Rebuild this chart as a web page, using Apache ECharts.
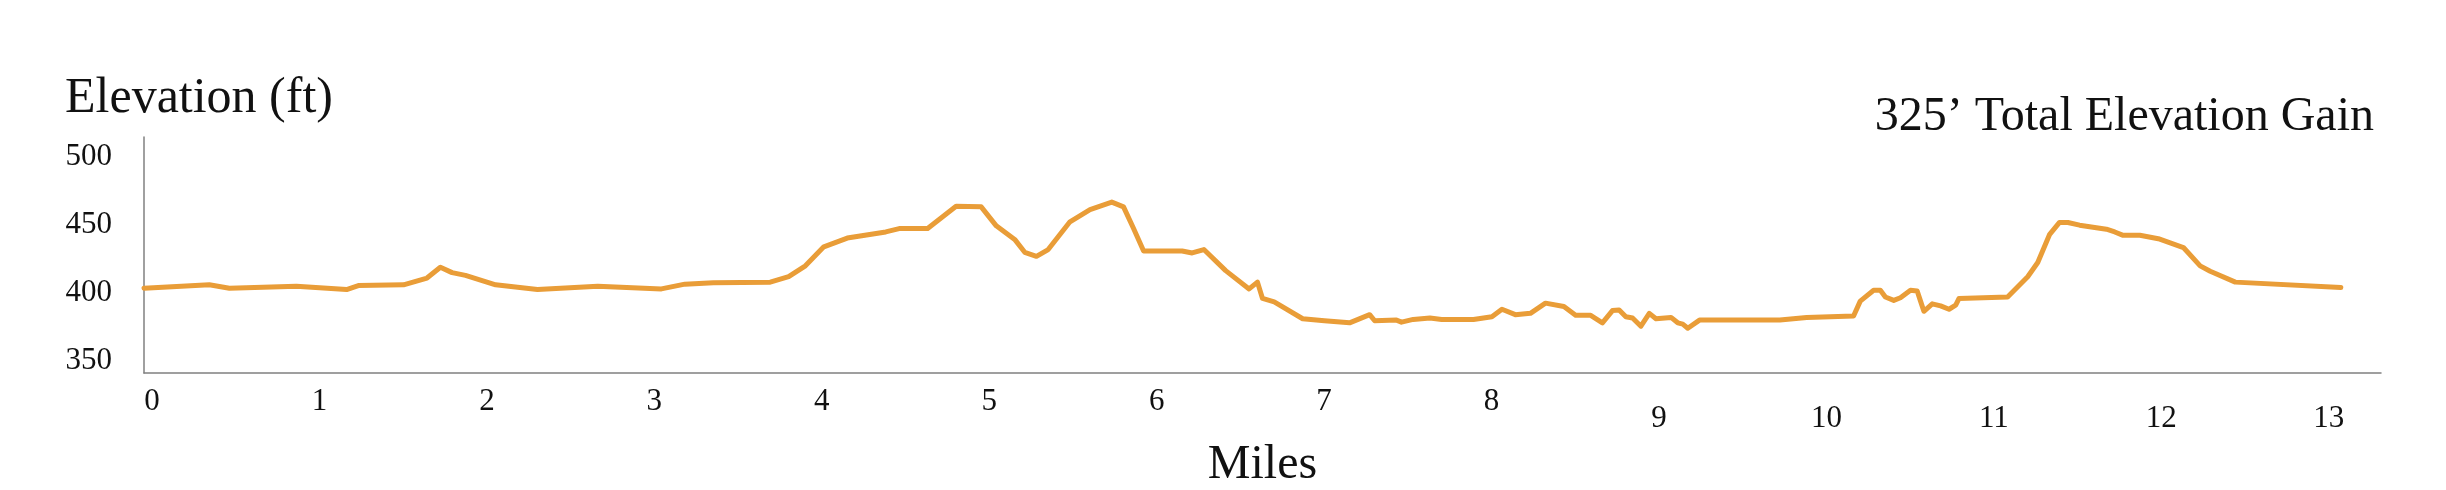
<!DOCTYPE html>
<html>
<head>
<meta charset="utf-8">
<script src="https://cdn.jsdelivr.net/npm/echarts@6/dist/echarts.min.js"></script>
<style>
html,body{margin:0;padding:0;background:#fff;}
#chart{width:2446px;height:490px;}
</style>
</head>
<body>
<div id="chart"></div>
<script>
// Distance along the course (miles)
const miles = [
  0.00, 0.39, 0.51, 0.91, 1.21, 1.28, 1.55, 1.69, 1.77, 1.84, 1.92, 2.10, 2.35, 2.71, 3.09, 3.23, 3.40, 3.74,
  3.85, 3.95, 4.06, 4.20, 4.43, 4.51, 4.68, 4.85, 5.00, 5.09, 5.20, 5.26, 5.33, 5.40, 5.53, 5.65, 5.78, 5.85,
  5.91, 5.97, 6.20, 6.26, 6.33, 6.46, 6.60, 6.65, 6.68, 6.75, 6.92, 7.05, 7.20, 7.32, 7.35, 7.48, 7.51, 7.58,
  7.68, 7.75, 7.94, 8.05, 8.11, 8.19, 8.28, 8.37, 8.48, 8.55, 8.64, 8.71, 8.77, 8.81, 8.85, 8.89, 8.94, 8.99,
  9.03, 9.12, 9.16, 9.19, 9.22, 9.29, 9.77, 9.93, 10.21, 10.25, 10.33, 10.37, 10.40, 10.45, 10.49, 10.55, 10.59,
  10.61, 10.63, 10.68, 10.73, 10.78, 10.82, 10.84, 11.13, 11.25, 11.31, 11.38, 11.44, 11.49, 11.56, 11.72, 11.77,
  11.82, 11.92, 12.03, 12.18, 12.28, 12.34, 12.49, 13.12
];
// Elevation at each distance (ft)
const elevation = [
  403.5, 406, 403.5, 405, 402.5, 405.5, 406, 411, 419, 415, 413, 406, 402.5, 405, 403, 406.5, 407.5, 408,
  412, 420, 434, 440.5, 445, 447.5, 447.5, 464, 463.5, 449.5, 439.5, 430, 427, 432, 452.5, 461.5, 467, 463.5,
  447.5, 431, 431, 429.5, 432, 416.5, 403, 408, 396, 393.5, 381, 379.5, 378, 384, 379.5, 380, 378.5, 380.5,
  381.5, 380.5, 380.5, 382.5, 388, 384, 385, 392.5, 390, 383.5, 383.5, 378, 387, 387.5, 382.5, 381.5, 375.5, 385,
  381, 382, 378, 377, 374, 380, 380, 382, 383, 394, 402, 402, 397, 394.5, 396.5, 402, 401.5,
  394, 386.5, 392, 390.5, 388, 391, 396, 397, 412, 422.5, 443, 452, 452, 450, 447, 445,
  442.5, 442.5, 440, 433.5, 420, 416, 408, 404
];
// Tick labels
const xTickLabels = ['0','1','2','3','4','5','6','7','8','9','10','11','12','13'];
const yTickLabels = ['350','400','450','500'];
const yAxisTitle = 'Elevation (ft)';
const xAxisTitle = 'Miles';
const gainNote = '325\u2019 Total Elevation Gain';

const FONT = '"Liberation Serif", "DejaVu Serif", serif';
const INK = '#111111';
const chart = echarts.init(document.getElementById('chart'), null, {renderer: 'canvas'});
const seriesData = miles.map((m, i) => [m, elevation[i]]);

chart.setOption({
  animation: false,
  backgroundColor: '#ffffff',
  title: [
    {text: yAxisTitle, left: 65, top: 74, padding: 0,
     textStyle: {fontSize: 50, fontWeight: 'normal', fontFamily: FONT, color: INK}},
    {text: gainNote, right: 72, top: 93, padding: 0,
     textStyle: {fontSize: 48, fontWeight: 'normal', fontFamily: FONT, color: INK}}
  ],
  grid: {left: 144, right: 65, top: 137, bottom: 108, containLabel: false},
  xAxis: {
    type: 'value', min: 0, max: 13.36, interval: 1,
    name: xAxisTitle, nameLocation: 'middle', nameGap: 68,
    nameTextStyle: {fontSize: 48, fontFamily: FONT, color: INK},
    axisLine: {show: true, lineStyle: {color: '#808080', width: 1.5}},
    axisTick: {show: false},
    splitLine: {show: false},
    axisLabel: {
      margin: 13, fontSize: 31, fontFamily: FONT, color: INK,
      formatter: function (v) {
        const s = String(v);
        if (xTickLabels.indexOf(s) < 0) return '';
        return v >= 9 ? '{lo|' + s + '}' : '{n|' + s + '}';
      },
      rich: {
        n: {fontSize: 31, fontFamily: FONT, color: INK, padding: [0, 0, 0, 16]},
        lo: {fontSize: 31, fontFamily: FONT, color: INK, padding: [17, 0, 0, 16]}
      }
    }
  },
  yAxis: {
    type: 'value', min: 341, max: 515, interval: 1,
    axisLine: {show: true, lineStyle: {color: '#808080', width: 1.5}},
    axisTick: {show: false},
    splitLine: {show: false},
    axisLabel: {
      margin: 32, fontSize: 31, fontFamily: FONT, color: INK,
      formatter: function (v) {
        const s = String(v);
        return yTickLabels.indexOf(s) >= 0 ? s : '';
      }
    }
  },
  series: [{
    type: 'line',
    data: seriesData,
    showSymbol: false,
    symbol: 'none',
    smooth: false,
    lineStyle: {color: '#E99D38', width: 5, join: 'round', cap: 'round'},
    itemStyle: {color: '#E99D38'}
  }]
});
</script>
</body>
</html>
